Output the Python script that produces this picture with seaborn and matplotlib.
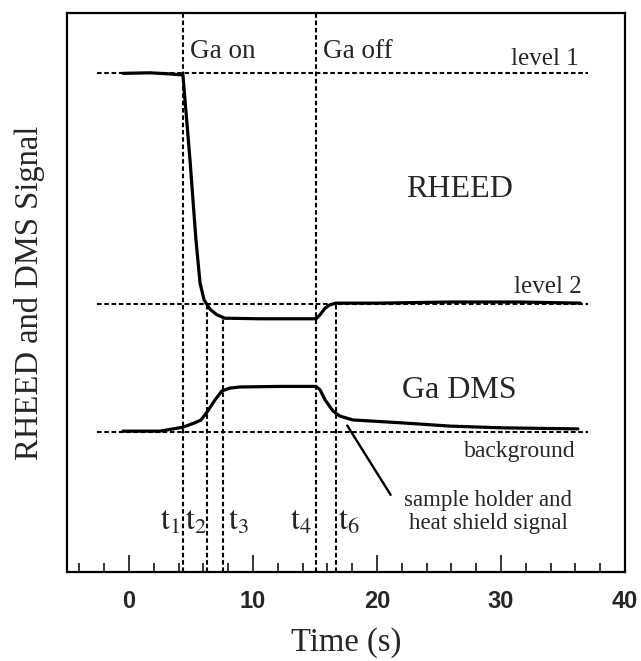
import numpy as np
import pandas as pd
import matplotlib
matplotlib.use("Agg")
import matplotlib.pyplot as plt
import seaborn as sns

# ---- data (arbitrary signal units) ----
rheed_t = [-0.48, 1.69, 3.31, 4.35, 4.92, 5.40, 5.73, 6.05, 6.53, 7.10, 7.74,
           10.56, 12.98, 15.08, 15.40, 15.81, 16.20, 16.69, 20.2, 25.9, 31.5, 36.4]
rheed_v = [8.92, 8.93, 8.91, 8.89, 7.37, 5.94, 5.17, 4.87, 4.70, 4.60, 4.54,
           4.53, 4.53, 4.53, 4.60, 4.72, 4.78, 4.81, 4.81, 4.83, 4.83, 4.81]

dms_t = [-0.48, 2.5, 4.35, 5.32, 5.81, 6.29, 6.94, 7.50, 8.15, 8.95, 12.18,
         15.08, 15.40, 15.81, 16.45, 17.0, 18.06, 21.85, 25.9, 29.9, 36.2]
dms_v = [2.52, 2.52, 2.59, 2.67, 2.72, 2.86, 3.08, 3.24, 3.29, 3.31, 3.32,
         3.32, 3.26, 3.08, 2.88, 2.79, 2.72, 2.67, 2.61, 2.58, 2.56]

level_names = ["level 1", "level 2", "background"]
level_vals = [8.92, 4.79, 2.51]
level_span = [-2.58, 37.0]

mark_names = ["t1", "t2", "t3", "t4", "t6"]
mark_times = [4.33, 6.26, 7.60, 15.10, 16.70]
mark_tops = [10.0, 4.79, 4.54, 10.0, 4.81]

xticks_major = [0, 10, 20, 30, 40]
xticks_minor = list(range(-4, 40, 2))

# ---- styling ----
sns.set_style("white")
plt.rcParams["font.family"] = ["Liberation Serif", "DejaVu Serif"]
plt.rcParams["mathtext.fontset"] = "stix"

fig = plt.figure(figsize=(6.41, 6.61), dpi=100)
ax = fig.add_axes([67 / 641, 89 / 661, 558 / 641, 559 / 661])

df = pd.concat([
    pd.DataFrame({"Time": rheed_t, "Signal": rheed_v, "series": "RHEED"}),
    pd.DataFrame({"Time": dms_t, "Signal": dms_v, "series": "Ga DMS"}),
])
sns.lineplot(data=df, x="Time", y="Signal", units="series", estimator=None,
             color="black", lw=2.3, ax=ax, sort=False)

dash = (2.2, 1.3)
for v in level_vals:
    ax.plot(level_span, [v, v], color="black", lw=1.5, dashes=dash)
for t, top in zip(mark_times, mark_tops):
    ax.plot([t, t], [0, top], color="black", lw=1.5, dashes=dash)

# annotation pointer
ax.plot([17.6, 21.1], [2.62, 1.38], color="black", lw=1.7)

ax.set_xlim(-5, 40)
ax.set_ylim(0, 10)
ax.set_yticks([])
ax.set_xticks(xticks_major)
ax.set_xticks(xticks_minor, minor=True)
ax.tick_params(axis="x", which="major", direction="in", length=12, width=1.3,
               pad=13, bottom=True, top=False)
ax.tick_params(axis="x", which="minor", direction="in", length=6.5, width=1.3,
               bottom=True, top=False)
for lab in ax.get_xticklabels():
    lab.set_fontfamily(["Liberation Sans", "DejaVu Sans"])
    lab.set_fontweight("bold")
    lab.set_fontsize(17)
for s in ax.spines.values():
    s.set_linewidth(1.6)
    s.set_color("black")

ax.set_xlabel("Time (s)", fontsize=23.5, labelpad=10)
ax.set_ylabel("RHEED and DMS Signal", fontsize=23.5, labelpad=16)

# texts
ax.text(4.92, 9.19, "Ga on", fontsize=19.5, ha="left", va="baseline")
ax.text(15.65, 9.19, "Ga off", fontsize=19.5, ha="left", va="baseline")
ax.text(36.3, 9.07, "level 1", fontsize=18, ha="right", va="baseline")
ax.text(26.65, 6.71, "RHEED", fontsize=23, ha="center", va="baseline")
ax.text(36.5, 4.99, "level 2", fontsize=18, ha="right", va="baseline")
ax.text(26.6, 3.11, "Ga DMS", fontsize=23, ha="center", va="baseline")
ax.text(36.05, 2.06, "background", fontsize=17, ha="right", va="baseline")
ax.text(28.95, 1.18, "sample holder and", fontsize=16.5, ha="center", va="baseline")
ax.text(28.95, 0.77, "heat shield signal", fontsize=16.5, ha="center", va="baseline")

tlab_x = [4.11, 4.52, 7.98, 14.76, 16.85]
tlab_ha = ["right", "left", "left", "right", "left"]
for name, x, ha in zip(mark_names, tlab_x, tlab_ha):
    ax.text(x, 0.75, r"$\mathrm{t}_{%s}$" % name[1:], fontsize=23, ha=ha,
            va="baseline")

fig.savefig("out.png", dpi=100)
